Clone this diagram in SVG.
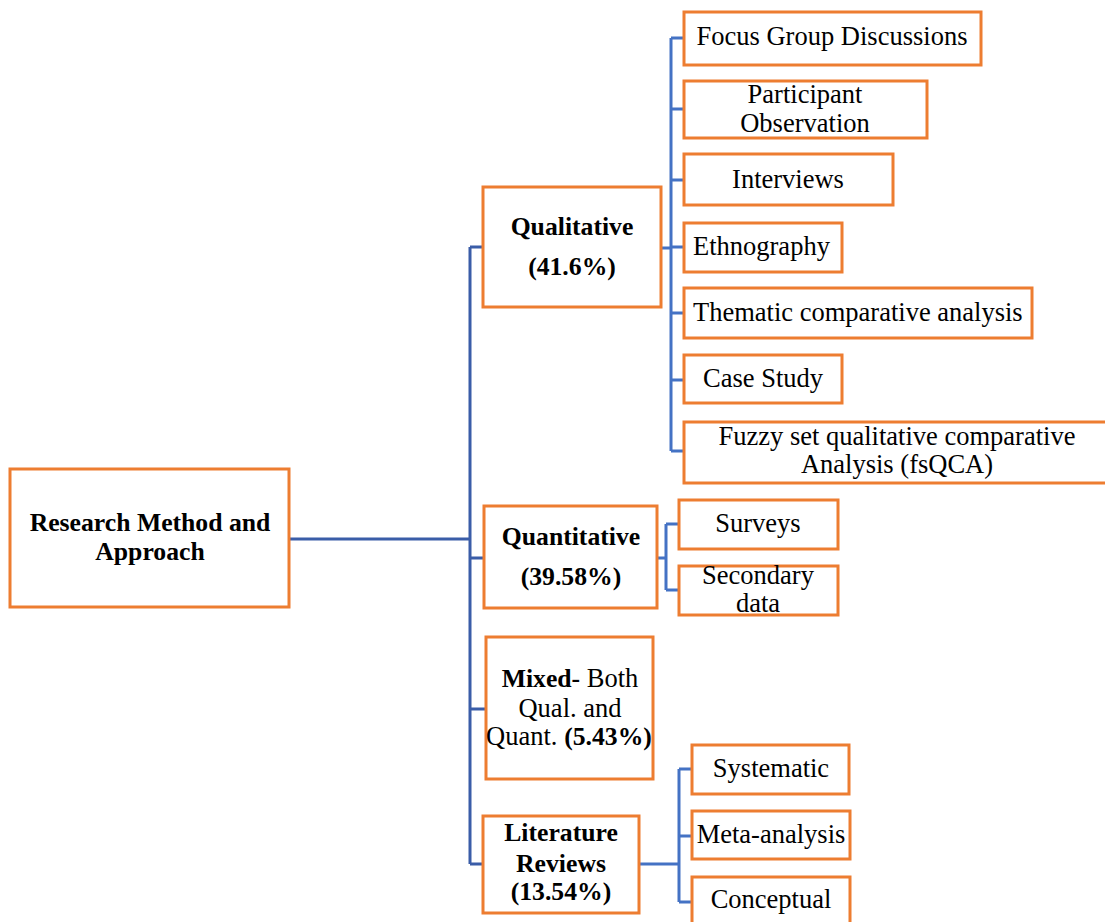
<svg xmlns="http://www.w3.org/2000/svg" width="1105" height="922" viewBox="0 0 1105 922">
<style>
.box{fill:#fff;stroke:#ED7D31;stroke-width:3}
.t{font-family:"Liberation Serif","Times New Roman",serif;font-size:26.5px;fill:#000;text-anchor:middle}
.tl{text-anchor:start}
.b{font-weight:bold;font-size:25.7px}
.c{fill:none;stroke:#4472C4;stroke-width:3}
.m{fill:none;stroke:#3A5DA8;stroke-width:3}
</style>
<rect width="1105" height="922" fill="#fff"/>
<g id="connectors">
<path class="m" d="M289 539H470M470 247V864M470 247H483M470 558H484M470 709H486M470 864H483"/>
<path class="c" d="M661 248H671M671 38V451M671 38H684M671 109H684M671 180H684M671 247H684M671 313H684M671 380H684M671 451H684"/>
<path class="c" d="M657 558H666M666 524V590M666 524H679M666 590H679"/>
<path class="c" d="M639 864H679M679 769V902M679 769H692M679 836H692M679 902H692"/>
</g>
<g id="root"><rect class="box" x="10" y="469" width="279" height="138"/>
<text class="t b" x="150" y="531">Research Method and</text><text class="t b" x="150" y="560">Approach</text></g>
<g id="qualitative"><rect class="box" x="483" y="187" width="178" height="120"/>
<text class="t b" x="572" y="235">Qualitative</text><text class="t b" x="572" y="275">(41.6%)</text></g>
<g id="focus"><rect class="box" x="684" y="12" width="297" height="53"/><text class="t" x="832" y="45">Focus Group Discussions</text></g>
<g id="participant"><rect class="box" x="684" y="81" width="243" height="57"/><text class="t" x="805" y="103">Participant</text><text class="t" x="805" y="132">Observation</text></g>
<g id="interviews"><rect class="box" x="684" y="154" width="209" height="51"/><text class="t" x="788" y="188">Interviews</text></g>
<g id="ethnography"><rect class="box" x="684" y="223" width="158" height="49"/><text class="t tl" x="693" y="255">Ethnography</text></g>
<g id="thematic"><rect class="box" x="684" y="288" width="348" height="50"/><text class="t tl" x="693" y="321">Thematic comparative analysis</text></g>
<g id="casestudy"><rect class="box" x="684" y="355" width="158" height="48"/><text class="t" x="763" y="387">Case Study</text></g>
<g id="fuzzy"><rect class="box" x="684" y="422" width="425" height="61"/><text class="t" x="897" y="445">Fuzzy set qualitative comparative</text><text class="t" x="897" y="473">Analysis (fsQCA)</text></g>
<g id="quantitative"><rect class="box" x="484" y="506" width="173" height="102"/>
<text class="t b" x="571" y="545">Quantitative</text><text class="t b" x="571" y="585">(39.58%)</text></g>
<g id="surveys"><rect class="box" x="679" y="500" width="159" height="49"/><text class="t" x="758" y="532">Surveys</text></g>
<g id="secondary"><rect class="box" x="679" y="566" width="159" height="49"/><text class="t" x="758" y="584">Secondary</text><text class="t" x="758" y="612">data</text></g>
<g id="mixed"><rect class="box" x="486" y="637" width="167" height="142"/>
<text class="t" x="570" y="687"><tspan class="b">Mixed-</tspan> Both</text><text class="t" x="570" y="717">Qual. and</text><text class="t" x="569" y="745">Quant. <tspan class="b">(5.43%)</tspan></text></g>
<g id="literature"><rect class="box" x="483" y="816" width="156" height="97"/>
<text class="t b" x="561" y="841">Literature</text><text class="t b" x="561" y="872">Reviews</text><text class="t b" x="561" y="900">(13.54%)</text></g>
<g id="systematic"><rect class="box" x="692" y="745" width="157" height="49"/><text class="t" x="771" y="777">Systematic</text></g>
<g id="meta"><rect class="box" x="692" y="811" width="158" height="48"/><text class="t" x="771" y="843">Meta-analysis</text></g>
<g id="conceptual"><rect class="box" x="692" y="877" width="158" height="60"/><text class="t" x="771" y="908">Conceptual</text></g>
</svg>
